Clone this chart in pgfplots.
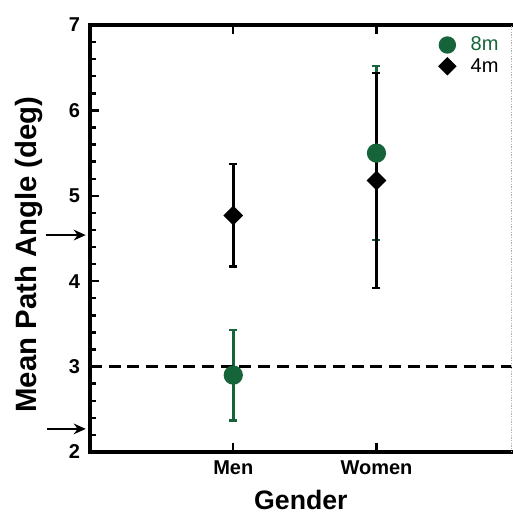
\documentclass[border=0pt]{standalone}
\usepackage{pgfplots}
\pgfplotsset{compat=1.18}
\usepackage{fontspec}
\setmainfont{Liberation Sans}
\usetikzlibrary{arrows.meta}
\definecolor{dgreen}{RGB}{22,100,58}

\begin{document}
\begin{tikzpicture}
  \begin{axis}[
      name=ax,
      scale only axis,
      width=316pt, height=320pt,
      xmin=0, xmax=2.944,
      ymin=2, ymax=7,
      axis x line*=box,
      axis y line*=left,
      axis line style={draw=none},
      xtick={1,2},
      xticklabels={Men,Women},
      ytick={2,3,4,5,6,7},
      minor y tick num=4,
      tick align=inside,
      major tick length=6.5pt,
      minor tick length=4.5pt,
      every tick/.append style={line width=1.8pt, black},
      major tick style={line width=1.8pt, black},
      minor tick style={line width=1.8pt, black},
      ticklabel style={font=\fontsize{15}{17}\selectfont\bfseries},
      yticklabel style={xshift=-4pt},
      xticklabel style={yshift=-3pt},
      /pgf/number format/assume math mode=true,
      xlabel={\fontsize{20}{22}\selectfont\bfseries Gender},
      ylabel={\fontsize{22}{24}\selectfont\bfseries Mean Path Angle (deg)},
      xlabel style={yshift=-5pt},
      ylabel style={yshift=13pt, xshift=-12pt},
      clip=false,
      legend style={draw=none, fill=none, at={(0.82,0.985)}, anchor=north west,
        font=\fontsize{15}{16}\selectfont, row sep=0pt},
      legend cell align=left,
      legend image post style={mark size=5.5pt},
  ]
  % 8m series
  \addplot[only marks, mark=*, mark size=6.2pt, color=dgreen, line width=2pt,
      error bars/.cd, y dir=both, y explicit,
      error bar style={line width=2pt, dgreen},
      error mark options={rotate=90, mark size=3pt, line width=1.8pt, dgreen}]
  coordinates {
      (1,2.90) +- (0,0.53)
      (2,5.50) +- (0,1.02)
  };
  \addlegendentry{\hspace{10pt}\textcolor{dgreen}{8m}}
  % 4m series
  \addplot[only marks, mark=diamond*, mark size=6pt, mark options={xscale=1.33}, color=black, line width=2pt,
      error bars/.cd, y dir=both, y explicit,
      error bar style={line width=2pt, black},
      error mark options={rotate=90, mark size=3pt, line width=1.8pt, black}]
  coordinates {
      (1,4.77) +- (0,0.60)
      (2,5.18) +- (0,1.26)
  };
  \addlegendentry{\hspace{10pt}4m}
  % reference line
  \addplot[forget plot, black, line width=2.2pt, dash pattern=on 9pt off 5pt]
  coordinates {(0,3) (2.944,3)};
  % frame
  \draw[black, line width=2.6pt, line cap=rect] (rel axis cs:1,1) -- (rel axis cs:0,1) -- (rel axis cs:0,0) -- (rel axis cs:1,0);
  \draw[gray!60, line width=1pt, densely dotted] (rel axis cs:1,0) -- (rel axis cs:1,1);
  \draw[-{Stealth[length=9pt,width=8pt]}, line width=2pt] (axis cs:-0.31,4.54) -- (axis cs:-0.03,4.54);
  \draw[-{Stealth[length=9pt,width=8pt]}, line width=2pt] (axis cs:-0.30,2.27) -- (axis cs:-0.03,2.27);
  \end{axis}
  \pgfresetboundingbox
  \path[use as bounding box] ([xshift=-67.5pt,yshift=-46.5pt]ax.south west) rectangle ([xshift=0.75pt,yshift=18.75pt]ax.north east);
\end{tikzpicture}
\end{document}
